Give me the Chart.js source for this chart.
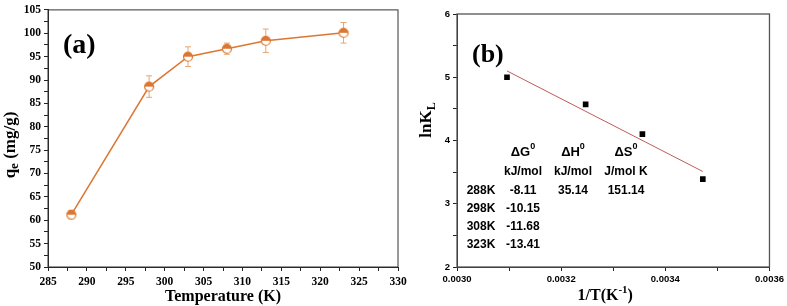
<!DOCTYPE html>
<html>
<head>
<meta charset="utf-8">
<script src="https://cdn.jsdelivr.net/npm/chart.js@4.4.1/dist/chart.umd.min.js"></script>
<style>
    body { margin: 0; background: #fff; }
    #wrap { position: relative; width: 787px; height: 306px; overflow: hidden; }
    canvas { position: absolute; top: 0; }
    #chart-a { left: 0; }
    #chart-b { left: 400px; }
</style>
</head>
<body>
<div id="wrap">
    <canvas id="chart-a" width="415" height="306"></canvas>
    <canvas id="chart-b" width="387" height="306"></canvas>
</div>
<script>
// panel (a): adsorption capacity vs temperature
const tempK = [288, 298, 303, 308, 313, 323];
const qe = [61.2, 88.6, 95.0, 96.7, 98.4, 100.1];
const qeErr = [0.9, 2.3, 2.1, 1.2, 2.5, 2.2];

// panel (b): van't Hoff plot
const invT = [0.003096, 0.003247, 0.003356, 0.003472];
const lnKL = [5.00, 4.57, 4.10, 3.39];
const fitInvT = [0.003096, 0.003472];
const fitLnKL = [5.10, 3.51];

// thermodynamic table
const tableTemps = ["288K", "298K", "308K", "323K"];
const deltaG = ["-8.11", "-10.15", "-11.68", "-13.41"];
const deltaH = "35.14";
const deltaS = "151.14";

const colors = {
    orange: "#DC7630",
    errBar: "#E8A572",
    fit: "#C25A58",
    axis: "#222",
};

const serif = "'Liberation Serif', 'Times New Roman', serif";
const sans = "'Liberation Sans', Arial, sans-serif";

Chart.defaults.color = "#000";

function halfCircle(r, color) {
    const c = document.createElement("canvas");
    const s = 2 * r + 3;
    c.width = s;
    c.height = s;
    const ctx = c.getContext("2d");
    const m = s / 2;
    ctx.fillStyle = "#fff";
    ctx.beginPath();
    ctx.arc(m, m, r, 0, Math.PI * 2);
    ctx.fill();
    ctx.fillStyle = color;
    ctx.beginPath();
    ctx.arc(m, m, r, Math.PI, 0);
    ctx.closePath();
    ctx.fill();
    ctx.strokeStyle = color;
    ctx.lineWidth = 1.2;
    ctx.beginPath();
    ctx.arc(m, m, r, 0, Math.PI * 2);
    ctx.stroke();
    return c;
}

function toPoints(xs, ys) {
    return xs.map((x, i) => ({ x: x, y: ys[i] }));
}

// draws text with a sub/superscript part
function richText(ctx, parts, x, y, align) {
    let total = 0;
    parts.forEach(p => { ctx.font = p.font; total += ctx.measureText(p.text).width; });
    let cx = align === "center" ? x - total / 2 : x;
    parts.forEach(p => {
        ctx.font = p.font;
        ctx.textAlign = "left";
        ctx.fillText(p.text, cx, y + (p.dy || 0));
        cx += ctx.measureText(p.text).width;
    });
}

function boxAxis(opts) {
    return Object.assign({
        type: "linear",
        grid: { drawOnChartArea: false, drawTicks: true, tickLength: 4, color: colors.axis },
        border: { display: true, color: colors.axis, width: 1 },
    }, opts);
}

const frame = {
    id: "frame",
    afterDraw(chart) {
        const a = chart.chartArea;
        const ctx = chart.ctx;
        ctx.save();
        ctx.strokeStyle = chart.options.plugins.frame.color;
        ctx.lineWidth = chart.options.plugins.frame.width;
        ctx.strokeRect(a.left, a.top, a.right - a.left, a.bottom - a.top);
        ctx.restore();
    },
};

const errorBars = {
    id: "errorBars",
    beforeDatasetsDraw(chart) {
        const xs = chart.scales.x;
        const ys = chart.scales.y;
        const ctx = chart.ctx;
        ctx.save();
        ctx.strokeStyle = colors.errBar;
        ctx.lineWidth = 1;
        tempK.forEach((t, i) => {
            const px = xs.getPixelForValue(t);
            const top = ys.getPixelForValue(qe[i] + qeErr[i]);
            const bot = ys.getPixelForValue(qe[i] - qeErr[i]);
            ctx.beginPath();
            ctx.moveTo(px, top); ctx.lineTo(px, bot);
            ctx.moveTo(px - 3, top); ctx.lineTo(px + 3, top);
            ctx.moveTo(px - 3, bot); ctx.lineTo(px + 3, bot);
            ctx.stroke();
        });
        ctx.restore();
    },
};

const labelsA = {
    id: "labelsA",
    afterDraw(chart) {
        const a = chart.chartArea;
        const ctx = chart.ctx;
        ctx.save();
        ctx.fillStyle = "#000";
        ctx.textBaseline = "middle";
        ctx.font = "bold 28px " + serif;
        ctx.textAlign = "left";
        ctx.fillText("(a)", a.left + 15, 46);
        ctx.font = "bold 16px " + serif;
        ctx.textAlign = "center";
        ctx.fillText("Temperature (K)", (a.left + a.right) / 2, 297);
        ctx.translate(11, 145);
        ctx.rotate(-Math.PI / 2);
        richText(ctx, [
            { text: "q", font: "bold 17px " + serif },
            { text: "e", font: "bold 13px " + serif, dy: 4 },
            { text: " (mg/g)", font: "bold 17px " + serif },
        ], 0, 0, "center");
        ctx.restore();
    },
};

const labelsB = {
    id: "labelsB",
    afterDraw(chart) {
        const a = chart.chartArea;
        const ctx = chart.ctx;
        ctx.save();
        ctx.fillStyle = "#000";
        ctx.textBaseline = "middle";
        ctx.font = "bold 26px " + serif;
        ctx.textAlign = "left";
        ctx.fillText("(b)", a.left + 15, 55);

        richText(ctx, [
            { text: "1/T(K", font: "bold 16px " + serif },
            { text: "-1", font: "bold 11px " + serif, dy: -6 },
            { text: ")", font: "bold 16px " + serif },
        ], (a.left + a.right) / 2 - 8, 296, "center");

        ctx.save();
        ctx.translate(27, 120);
        ctx.rotate(-Math.PI / 2);
        richText(ctx, [
            { text: "lnK", font: "bold 17px " + serif },
            { text: "L", font: "bold 12px " + serif, dy: 5 },
        ], 0, 0, "center");
        ctx.restore();

        // thermodynamic parameters table
        const L = a.left, T = a.top;
        const cols = [24, 66, 116, 169];
        const big = "bold 13px " + sans;
        const sup = "bold 9px " + sans;
        [["\u0394G", 0], ["\u0394H", 1], ["\u0394S", 2]].forEach(([t, i]) => {
            richText(ctx, [
                { text: t, font: big },
                { text: "0", font: sup, dy: -5 },
            ], L + cols[i + 1], T + 138, "center");
        });
        ctx.font = "bold 12px " + sans;
        ctx.textAlign = "center";
        ["kJ/mol", "kJ/mol", "J/mol K"].forEach((u, i) => {
            ctx.fillText(u, L + cols[i + 1], T + 158);
        });
        const rows = [177, 195, 213, 231];
        tableTemps.forEach((t, i) => {
            ctx.fillText(t, L + cols[0], T + rows[i]);
            ctx.fillText(deltaG[i], L + cols[1], T + rows[i]);
        });
        ctx.fillText(deltaH, L + cols[2], T + rows[0]);
        ctx.fillText(deltaS, L + cols[3], T + rows[0]);
        ctx.restore();
    },
};

new Chart(document.getElementById("chart-a"), {
    type: "scatter",
    data: {
        datasets: [{
            data: toPoints(tempK, qe),
            showLine: true,
            borderColor: colors.orange,
            borderWidth: 1.5,
            pointStyle: halfCircle(4.5, colors.orange),
            pointRadius: 5,
        }],
    },
    options: {
        responsive: false,
        animation: false,
        layout: { padding: { top: 6, right: 17, left: 0, bottom: 0 } },
        plugins: {
            legend: { display: false },
            tooltip: { enabled: false },
            frame: { color: "#333", width: 1 },
        },
        scales: {
            x: boxAxis({
                min: 285, max: 330,
                afterFit: s => { s.height = 39; },
                ticks: {
                    stepSize: 2.5, autoSkip: false, maxRotation: 0, padding: 4,
                    font: { family: serif, size: 11.5, weight: "bold" },
                    callback: v => (v % 5 === 0 ? v : ""),
                },
            }),
            y: boxAxis({
                min: 50, max: 105,
                afterFit: s => { s.width = 48; },
                ticks: {
                    stepSize: 2.5, autoSkip: false, padding: 3,
                    font: { family: serif, size: 11.5, weight: "bold" },
                    callback: v => (v % 5 === 0 ? v : ""),
                },
            }),
        },
    },
    plugins: [frame, errorBars, labelsA],
});

new Chart(document.getElementById("chart-b"), {
    type: "scatter",
    data: {
        datasets: [
            {
                data: toPoints(fitInvT, fitLnKL),
                showLine: true,
                borderColor: colors.fit,
                borderWidth: 1,
                pointRadius: 0,
            },
            {
                data: toPoints(invT, lnKL),
                pointStyle: "rect",
                pointRadius: 4,
                backgroundColor: "#000",
                borderColor: "#000",
                borderWidth: 0,
            },
        ],
    },
    options: {
        responsive: false,
        animation: false,
        layout: { padding: { top: 14, right: 15, left: 0, bottom: 0 } },
        plugins: {
            legend: { display: false },
            tooltip: { enabled: false },
            frame: { color: "#555", width: 1.3 },
        },
        scales: {
            x: boxAxis({
                min: 0.0030, max: 0.0036,
                afterFit: s => { s.height = 39; },
                ticks: {
                    stepSize: 0.0001, autoSkip: false, maxRotation: 0, padding: 3,
                    font: { family: sans, size: 9.5, weight: "bold" },
                    callback: v => (Math.round(v * 10000) % 2 === 0 ? v.toFixed(4) : ""),
                },
            }),
            y: boxAxis({
                min: 2, max: 6,
                afterFit: s => { s.width = 57; },
                ticks: {
                    stepSize: 0.5, autoSkip: false, padding: 3,
                    font: { family: sans, size: 9.5, weight: "bold" },
                    callback: v => (Number.isInteger(v) ? v : ""),
                },
            }),
        },
    },
    plugins: [frame, labelsB],
});
</script>
</body>
</html>
